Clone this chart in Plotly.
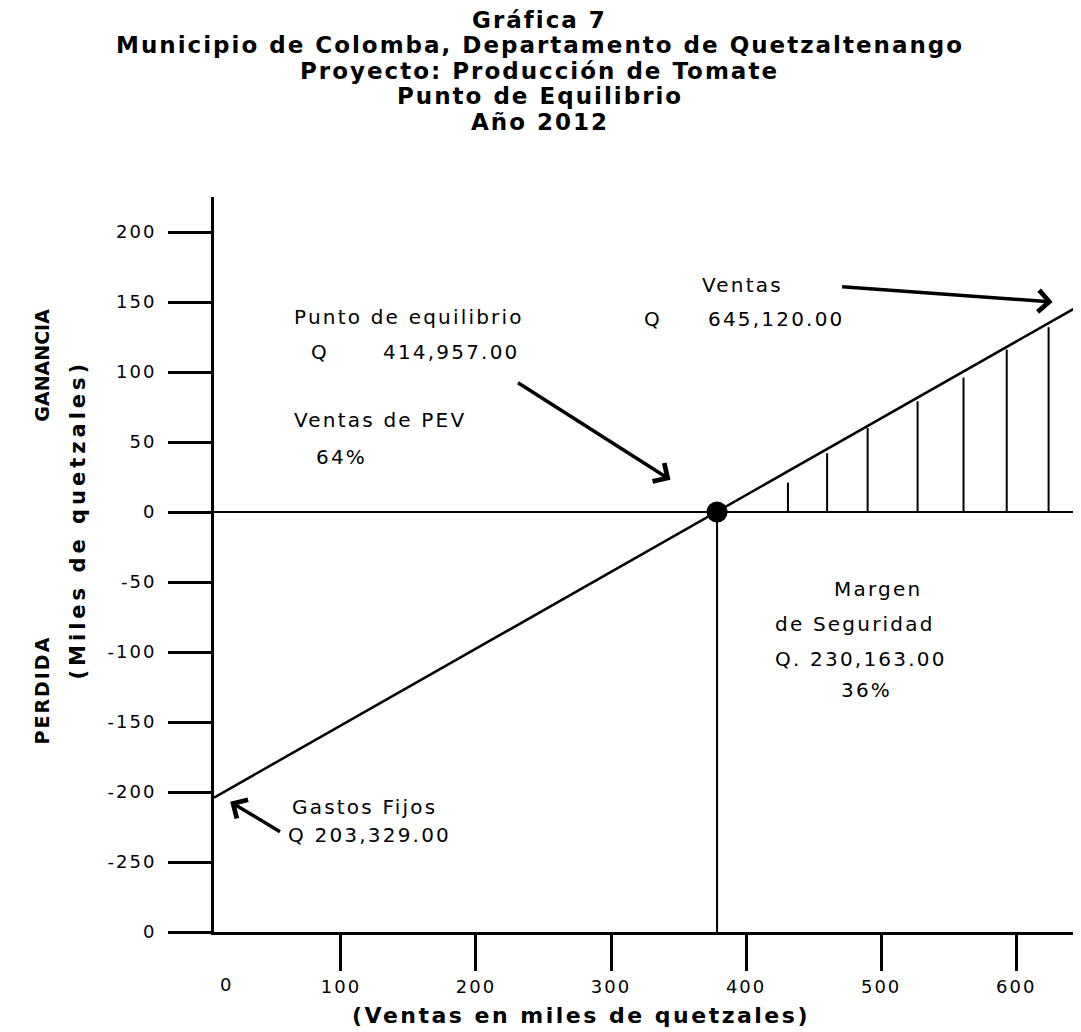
import plotly.graph_objects as go

# ---- data (miles de quetzales) ----
x_tick_vals = [100, 200, 300, 400, 500, 600]
x_tick_text = ["100", "200", "300", "400", "500", "600"]
x_origin_label = "0"
y_tick_vals = [-300, -250, -200, -150, -100, -50, 0, 50, 100, 150, 200]
y_tick_text = ["0", "-250", "-200", "-150", "-100", "-50", "0", "50", "100", "150", "200"]

line_x = [6, 646]          # ventas
line_y = [-204, 147]       # ganancia / pérdida
be_x = [378.5]             # punto de equilibrio
be_y = [0]
sales_x = 646              # línea de ventas totales
sales_top, sales_bottom = 191, -286
hatch_x = [431, 460, 490, 527, 561, 593, 624]
hatch_top = [21, 42, 60, 79, 96, 116, 132]

FONT = "DejaVu Sans, Verdana, sans-serif"


def sp(t, ls):
    return '<span style="letter-spacing:%spx">%s</span>' % (ls, t)


fig = go.Figure()

# hatching (margen de seguridad)
hx, hy = [], []
for xv, tv in zip(hatch_x, hatch_top):
    hx += [xv, xv, None]
    hy += [0, tv, None]
fig.add_trace(go.Scatter(x=hx, y=hy, mode="lines", line=dict(color="black", width=2),
                         hoverinfo="skip", showlegend=False))
fig.add_trace(go.Scatter(x=line_x, y=line_y, mode="lines", line=dict(color="black", width=2.5),
                         showlegend=False))
fig.add_trace(go.Scatter(x=[be_x[0], be_x[0]], y=[be_y[0], -300], mode="lines",
                         line=dict(color="black", width=2), showlegend=False))
fig.add_trace(go.Scatter(x=[sales_x, sales_x], y=[sales_top, sales_bottom], mode="lines",
                         line=dict(color="black", width=4), showlegend=False))
fig.add_trace(go.Scatter(x=be_x, y=be_y, mode="markers",
                         marker=dict(color="black", size=21), showlegend=False))

ann = []
# x origin label "0"
ann.append(dict(x=0.014, xref="paper", y=-0.072, yref="paper", text=sp(x_origin_label, 2),
                showarrow=False, xanchor="center", yanchor="middle",
                font=dict(size=18, family=FONT)))

# titles
titles = ["Gráfica 7", "Municipio de Colomba, Departamento de Quetzaltenango",
          "Proyecto: Producción de Tomate", "Punto de Equilibrio", "Año 2012"]
title_y = [1.241, 1.2062, 1.1715, 1.1368, 1.102]
for t, yy in zip(titles, title_y):
    ann.append(dict(x=0.376, xref="paper", y=yy, yref="paper", text="<b>%s</b>" % sp(t, 2),
                    showarrow=False, xanchor="center", yanchor="middle",
                    font=dict(size=23, family=FONT)))

# axis titles
ann.append(dict(x=0.4233, xref="paper", y=-0.113, yref="paper",
                text="<b>%s</b>" % sp("(Ventas en miles de quetzales)", 2.5), showarrow=False,
                xanchor="center", yanchor="middle", font=dict(size=22, family=FONT)))
ann.append(dict(x=-0.157, xref="paper", y=0.561, yref="paper", textangle=-90,
                text="<b>%s</b>" % sp("(Miles de quetzales)", 4), showarrow=False,
                xanchor="center", yanchor="middle", font=dict(size=21, family=FONT)))
ann.append(dict(x=-0.198, xref="paper", y=0.771, yref="paper", textangle=-90,
                text="<b>GANANCIA</b>", showarrow=False, xanchor="center", yanchor="middle",
                font=dict(size=19, family=FONT)))
ann.append(dict(x=-0.198, xref="paper", y=0.329, yref="paper", textangle=-90,
                text="<b>%s</b>" % sp("PERDIDA", 2), showarrow=False, xanchor="center",
                yanchor="middle", font=dict(size=19, family=FONT)))

# text labels
labels = [
    ("Punto de equilibrio", 64, 139, "left"),
    ("Q", 76, 114, "left"),
    ("414,957.00", 130, 114, "left"),
    ("Q", 323, 138, "left"),
    ("645,120.00", 370, 138, "left"),
    ("Ventas", 366, 162, "left"),
    ("Ventas de PEV", 64, 66, "left"),
    ("64%", 80, 39, "left"),
    ("Margen", 498, -55, "center"),
    ("de Seguridad", 481, -80, "center"),
    ("Q. 230,163.00", 485, -105, "center"),
    ("36%", 489, -127, "center"),
    ("Gastos Fijos", 62, -211, "left"),
    ("Q 203,329.00", 59, -231, "left"),
]
for t, xx, yy, anc in labels:
    ann.append(dict(x=xx, y=yy, xref="x", yref="y", text=sp(t, 2.2), showarrow=False,
                    xanchor=anc, yanchor="middle", font=dict(size=20, family=FONT)))

# arrows (tip x,y ; tail ax,ay)
arrows = [(627, 150, 470, 161), (344, 23, 230, 93), (18, -207, 56, -229)]
for xx, yy, axx, ayy in arrows:
    ann.append(dict(x=xx, y=yy, ax=axx, ay=ayy, xref="x", yref="y", axref="x", ayref="y",
                    text="", showarrow=True, arrowhead=4, arrowsize=1.2, arrowwidth=3.5,
                    arrowcolor="black"))

fig.update_layout(
    width=1073, height=1024,
    margin=dict(l=206, r=0, t=189, b=100),
    paper_bgcolor="white", plot_bgcolor="white",
    annotations=ann,
    font=dict(family=FONT, color="black"),
    xaxis=dict(range=[6, 648], tickvals=x_tick_vals,
               ticktext=[sp(t, 2) for t in x_tick_text],
               ticks="outside", ticklen=36, tickwidth=3, tickcolor="black",
               showline=True, linewidth=3, linecolor="black", showgrid=False,
               zeroline=False, ticklabelstandoff=0,
               tickfont=dict(size=18, family=FONT, color="black")),
    yaxis=dict(range=[-300, 225], tickvals=y_tick_vals,
               ticktext=[sp(t, 2) for t in y_tick_text],
               ticks="outside", ticklen=43, tickwidth=3, tickcolor="black",
               showline=True, linewidth=3, linecolor="black", showgrid=False,
               zeroline=True, zerolinecolor="black", zerolinewidth=2,
               ticklabelstandoff=8,
               tickfont=dict(size=18, family=FONT, color="black")),
)
fig.write_html("out.html")
